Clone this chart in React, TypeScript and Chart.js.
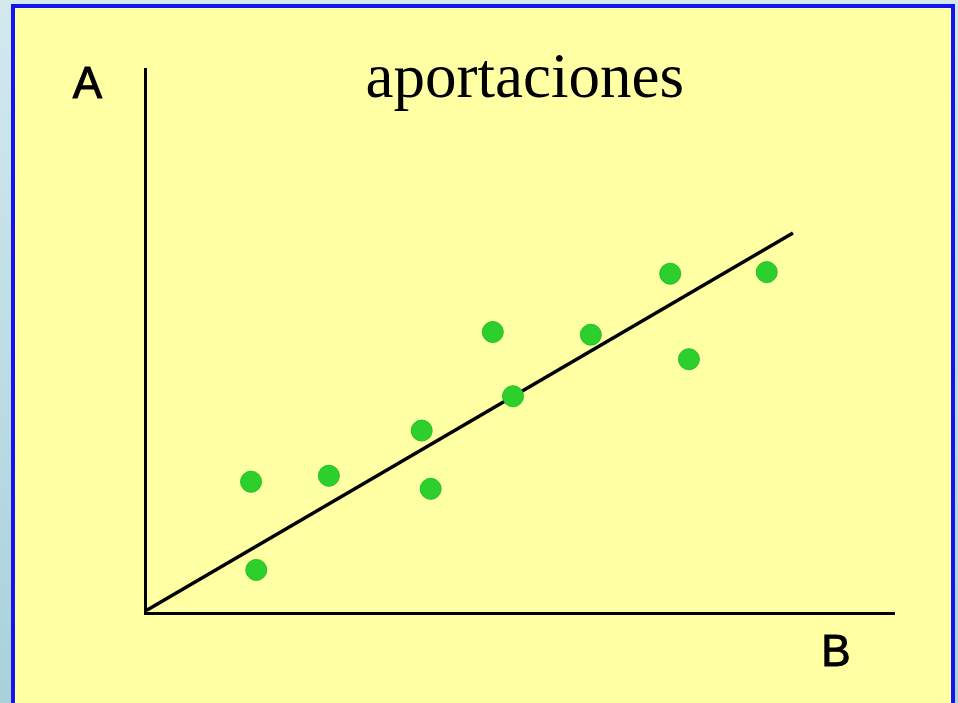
import React, { useEffect, useRef } from "react";
import { Chart, registerables } from "chart.js";

Chart.register(...registerables);

const titleText = "aportaciones";
const yAxisLabel = "A";
const xAxisLabel = "B";

const pointsX = [1.41, 1.48, 2.45, 3.69, 3.81, 4.64, 4.91, 5.95, 7.01, 7.26, 8.30];
const pointsY = [2.42, 0.80, 2.53, 3.36, 2.29, 5.17, 3.99, 5.12, 6.24, 4.67, 6.27];

const lineX = [0.016, 8.65];
const lineY = [0.06, 6.99];

const backgroundPlugin = {
  id: "panelBackground",
  beforeDraw(chart: any) {
    const ctx = chart.ctx as CanvasRenderingContext2D;
    const w = chart.width;
    const h = chart.height;
    ctx.save();
    const g = ctx.createLinearGradient(0, 0, 0, h);
    g.addColorStop(0, "#d3e9ee");
    g.addColorStop(1, "#a9d1da");
    ctx.fillStyle = g;
    ctx.fillRect(0, 0, w, h);

    ctx.fillStyle = "#ffffa4";
    ctx.fillRect(14, 7, 938, h);

    ctx.strokeStyle = "#1414f0";
    ctx.lineWidth = 4;
    ctx.strokeRect(13, 6, 940, h + 20);
    ctx.restore();
  },
  afterDraw(chart: any) {
    const ctx = chart.ctx as CanvasRenderingContext2D;
    const area = chart.chartArea;
    ctx.save();
    ctx.fillStyle = "#000000";
    ctx.textAlign = "center";
    ctx.textBaseline = "alphabetic";
    ctx.font = '63px "Liberation Serif", "Times New Roman", serif';
    ctx.fillText(titleText, (area.left + area.right) / 2 + 5, 97);
    ctx.font = '44px "Liberation Sans", Arial, sans-serif';
    ctx.strokeStyle = "#000000";
    ctx.lineWidth = 1;
    ctx.fillText(yAxisLabel, area.left - 58, 98);
    ctx.strokeText(yAxisLabel, area.left - 58, 98);
    ctx.fillText(xAxisLabel, area.right - 58, 666);
    ctx.strokeText(xAxisLabel, area.right - 58, 666);
    ctx.restore();
  },
};

export default function App() {
  const canvasRef = useRef<HTMLCanvasElement | null>(null);

  useEffect(() => {
    document.body.style.margin = "0";
    document.body.style.overflow = "hidden";
    const canvas = canvasRef.current;
    if (!canvas) return;
    const chart = new Chart(canvas, {
      type: "scatter",
      data: {
        datasets: [
          {
            type: "scatter",
            label: "aportaciones",
            data: pointsX.map((x, i) => ({ x, y: pointsY[i] })),
            backgroundColor: "#2ccf2c",
            borderColor: "#25c025",
            borderWidth: 1,
            pointRadius: 10.5,
            pointHoverRadius: 10.5,
            order: 0,
          },
          {
            type: "line",
            label: "tendencia",
            data: lineX.map((x, i) => ({ x, y: lineY[i] })),
            borderColor: "#000000",
            borderWidth: 3.5,
            pointRadius: 0,
            showLine: true,
            fill: false,
            order: 1,
          },
        ],
      },
      options: {
        responsive: false,
        animation: false,
        devicePixelRatio: 1,
        layout: {
          padding: { left: 145.5, right: 64, top: 69, bottom: 89.5 },
        },
        plugins: {
          legend: { display: false },
          title: { display: false },
          tooltip: { enabled: false },
        },
        scales: {
          x: {
            type: "linear",
            min: 0,
            max: 10,
            grid: { display: false, drawTicks: false },
            ticks: { display: false },
            border: { display: true, color: "#000000", width: 3 },
          },
          y: {
            type: "linear",
            min: 0,
            max: 10,
            grid: { display: false, drawTicks: false },
            ticks: { display: false },
            border: { display: true, color: "#000000", width: 3 },
          },
        },
      },
      plugins: [backgroundPlugin],
    });
    return () => chart.destroy();
  }, []);

  return (
    <canvas
      ref={canvasRef}
      width={958}
      height={703}
      style={{ display: "block", width: "958px", height: "703px" }}
    />
  );
}
